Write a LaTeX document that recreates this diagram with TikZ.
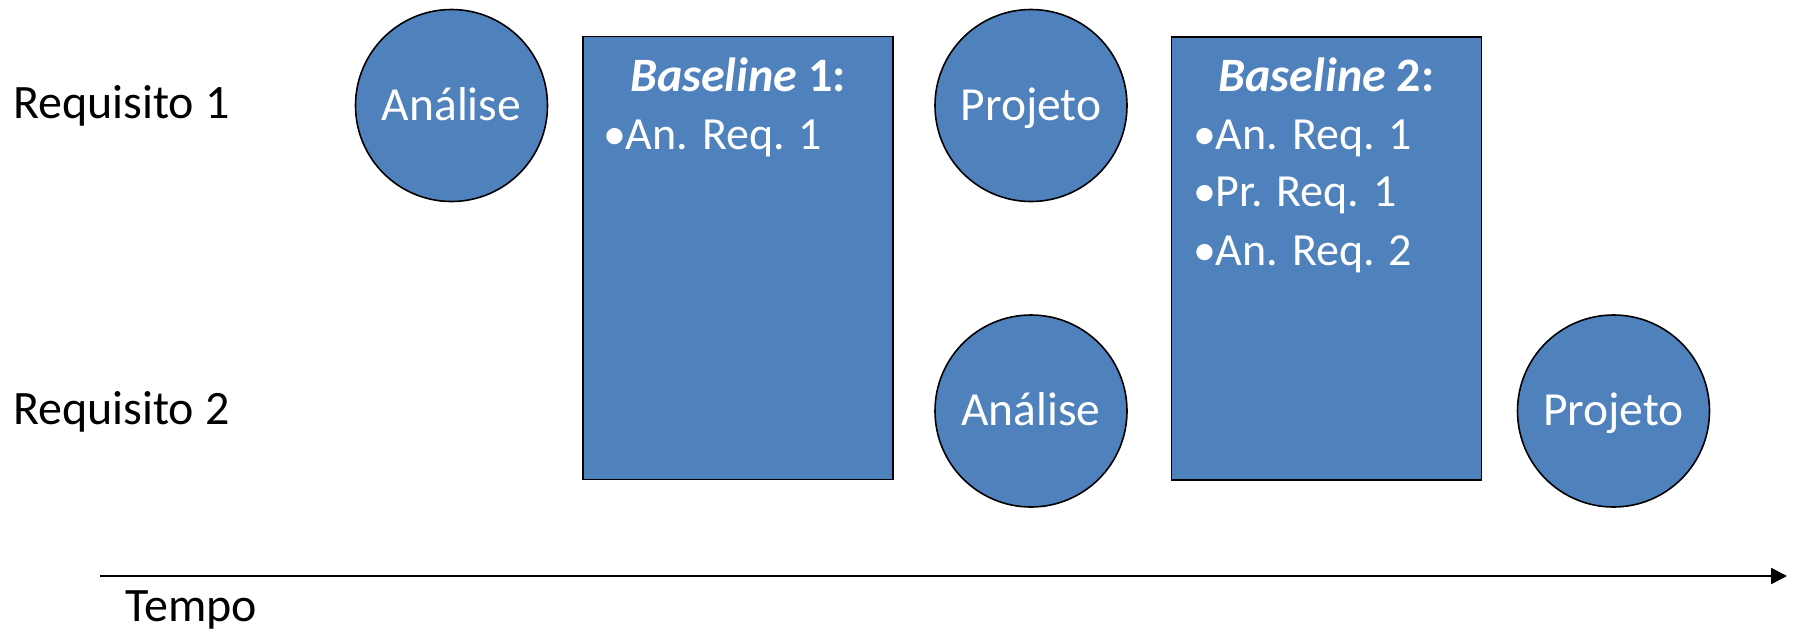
\documentclass[tikz,border=0pt]{standalone}
\usepackage{fontspec}
\setmainfont{Carlito}
\usetikzlibrary{arrows.meta}
\definecolor{boxblue}{HTML}{4F81BD}
\begin{document}
\begin{tikzpicture}[x=1pt,y=-1pt,
  every node/.style={inner sep=0pt,outer sep=0pt},
  txt/.style={font=\fontsize{48}{52}\selectfont},
  phase/.style={circle,draw=black,line width=1.6pt,fill=boxblue,minimum size=192pt,
    text=white,font=\fontsize{47.5}{52}\selectfont,text height=29.5pt,text depth=0pt},
  baselinebox/.style={rectangle,draw=black,line width=1.4pt,fill=boxblue,
    minimum width=310pt,minimum height=443pt},
  boxtitle/.style={anchor=base,text=white,font=\fontsize{48}{52}\selectfont\bfseries},
  boxitem/.style={anchor=base west,text=white,font=\fontsize{46}{50}\selectfont},
  timeaxis/.style={line width=2.5pt,-{Triangle[length=16pt,width=16pt]}}
]
\useasboundingbox (0,0) rectangle (1797,633);
% row labels
\node[txt,anchor=base west] (r1) at (13,118.5) {Requisito 1};
\node[txt,anchor=base west] (r2) at (13,424) {Requisito 2};
% phases
\node[phase] (a1) at (451.5,105.5) {Análise};
\node[phase] (p1) at (1031,105.5) {Projeto};
\node[phase] (a2) at (1031,411) {Análise};
\node[phase] (p2) at (1613.5,411) {Projeto};
% baselines
\node[baselinebox] (b1) at (738,258) {};
\node[baselinebox] (b2) at (1326.5,258.5) {};
\node[boxtitle] (b1t) at (738,91) {\textit{Baseline} 1:};
\node[boxitem] (b1i1) at (603,149) {\makebox[23pt][l]{•}An. Req. 1};
\node[boxtitle] (b2t) at (1326.5,91.5) {\textit{Baseline} 2:};
\node[boxitem] (b2i1) at (1193,149.3) {\makebox[23pt][l]{•}An. Req. 1};
\node[boxitem] (b2i2) at (1193,206.7) {\makebox[23pt][l]{•}Pr. Req. 1};
\node[boxitem] (b2i3) at (1193,265) {\makebox[23pt][l]{•}An. Req. 2};
% time axis
\coordinate (t0) at (100,576);
\coordinate (t1) at (1787,576);
\draw[timeaxis] (t0) -- (t1);
\node[txt,anchor=base west] (tempo) at (125,621) {Tempo};
\end{tikzpicture}
\end{document}
